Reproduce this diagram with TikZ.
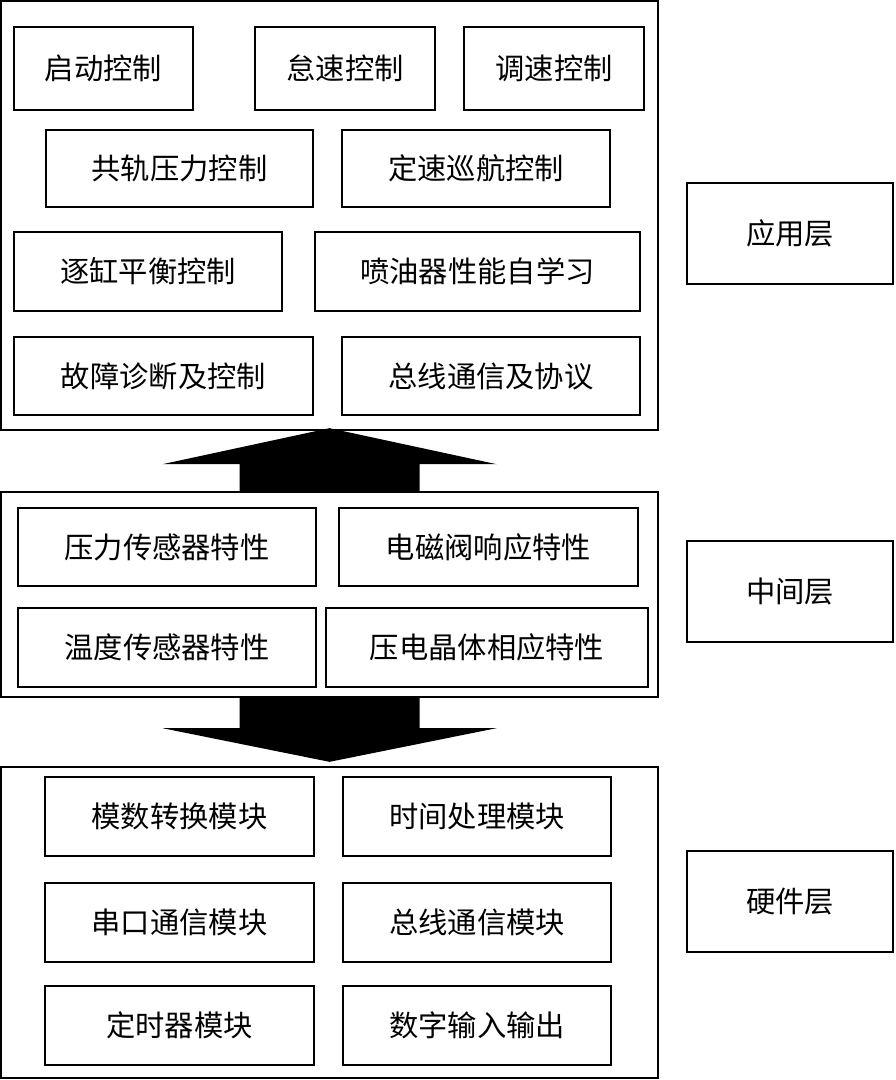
\documentclass[tikz,border=0pt]{standalone}
\usepackage{fontspec}
\newfontfamily\cjk{Noto Sans CJK SC}
\usetikzlibrary{fit,calc}

\tikzset{
  layer/.style={draw, line width=2pt, inner sep=0pt},
  unit/.style={draw, line width=1.8pt, inner sep=0pt},
  every label/.style={font=\cjk\fontsize{25}{30}\selectfont, inner sep=0pt},
}

\begin{document}
\begin{tikzpicture}[x=0.03cm, y=-0.03cm]
\useasboundingbox (0,0) rectangle (896,1080);

% application layer
\node[layer, fit={(1,1) (658,430)}] (app) {};
\node[unit, fit={(14,27) (193,110)}, label=center:启动控制] (start) {};
\node[unit, fit={(255,27) (435,110)}, label=center:怠速控制] (idle) {};
\node[unit, fit={(464,27) (644,110)}, label=center:调速控制] (speed) {};
\node[unit, fit={(46,130) (313,207)}, label=center:共轨压力控制] (rail) {};
\node[unit, fit={(342,130) (610,207)}, label=center:定速巡航控制] (cruise) {};
\node[unit, fit={(14,232) (282,311)}, label=center:逐缸平衡控制] (balance) {};
\node[unit, fit={(315,232) (640,311)}, label=center:喷油器性能自学习] (learn) {};
\node[unit, fit={(14,337) (313,415)}, label=center:故障诊断及控制] (fault) {};
\node[unit, fit={(342,337) (640,415)}, label=center:总线通信及协议] (bus) {};

% middle layer
\node[layer, fit={(1,492) (658,697)}] (mid) {};
\node[unit, fit={(18,508) (316,586)}, label=center:压力传感器特性] (psens) {};
\node[unit, fit={(339,508) (638,586)}, label=center:电磁阀响应特性] (valve) {};
\node[unit, fit={(18,608) (316,687)}, label=center:温度传感器特性] (tsens) {};
\node[unit, fit={(326,608) (648,687)}, label=center:压电晶体相应特性] (piezo) {};

% hardware layer
\node[layer, fit={(1,767) (658,1078)}] (hw) {};
\node[unit, fit={(45,777) (314,856)}, label=center:模数转换模块] (adc) {};
\node[unit, fit={(343,777) (611,856)}, label=center:时间处理模块] (timeproc) {};
\node[unit, fit={(45,883) (314,962)}, label=center:串口通信模块] (serial) {};
\node[unit, fit={(343,883) (611,962)}, label=center:总线通信模块] (busmod) {};
\node[unit, fit={(45,986) (314,1065)}, label=center:定时器模块] (timer) {};
\node[unit, fit={(343,986) (611,1065)}, label=center:数字输入输出] (dio) {};

% layer names
\node[unit, fit={(687,183) (893,284)}, label=center:应用层] (lapp) {};
\node[unit, fit={(687,541) (893,642)}, label=center:中间层] (lmid) {};
\node[unit, fit={(687,851) (893,952)}, label=center:硬件层] (lhw) {};

% block arrows
\fill ($(app.south)+(0,-3)$) -- ++(167,36) -- ++(-77,0)
  -- ($(mid.north)+(90,0)$) -- ($(mid.north)+(-90,0)$)
  -- ($(app.south)+(-90,33)$) -- ++(-77,0) -- cycle;
\fill ($(mid.south)+(-90,0)$) -- ($(mid.south)+(90,0)$) -- ++(0,30) -- ++(77,0)
  -- ($(hw.north)+(0,-4)$) -- ($(mid.south)+(-167,30)$) -- ++(77,0) -- cycle;
\end{tikzpicture}
\end{document}
